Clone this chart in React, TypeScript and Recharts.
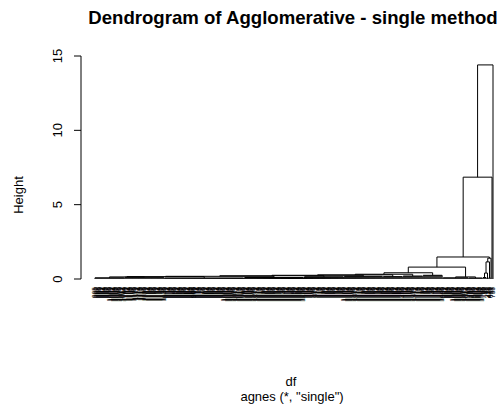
import React from 'react';
import { LineChart, Line, XAxis, YAxis } from 'recharts';

document.body.style.margin = '0';

// leaf groups, left to right (leaves inside a group hang from one low bar)
const groupSizes = [30, 40, 80, 60, 40, 39, 20, 20, 20, 26, 14, 4, 2, 2, 1, 1, 1];
const groupHeights = [0.08, 0.12, 0.07, 0.1, 0.15, 0.18, 0.16, 0.2, 0.25, 0.08, 0.07, 0.1, 0.05, 0.1, 0, 0, 0];
const groupFirstIds = [985, 1100, 940, 1200, 300, 1300, 1350, 1400, 1430, 990, 1495, 55, 212, 478, 601, 88, 733];

// merges, hclust style: negative = group, positive = earlier merge
const mergeLeft = [-1, 1, 2, 3, 4, 5, 6, 7, -10, 8, -12, 11, 12, 10, 14, 15];
const mergeRight = [-2, -3, -4, -5, -6, -7, -8, -9, -11, 9, -13, -14, -15, 13, -16, -17];
const mergeHeights = [0.14, 0.16, 0.18, 0.22, 0.25, 0.28, 0.32, 0.42, 0.14, 0.8, 0.4, 1.15, 1.4, 1.48, 6.85, 14.4];

const yTicks = [0, 5, 10, 15];

const W = 503;
const H = 408;
const PLOT_LEFT = 81;
const PLOT_TOP = 56;
const PLOT_BOTTOM = 279;
const FONT = '"Liberation Sans", Arial, Helvetica, sans-serif';

type Pt = { x: number; y: number | null };

// walk groups + merges into line points
const leafLabels: string[] = [];
const leafPos: number[] = [];
const pts: Pt[] = [];
const groupPos: number[] = [];
let leaf = 1;
groupSizes.forEach((size, g) => {
  const first = leaf;
  const h = groupHeights[g];
  for (let k = 0; k < size; k++) {
    leafPos.push(leaf);
    leafLabels.push(String(groupFirstIds[g] + k));
    if (h > 0) pts.push({ x: leaf, y: 0 }, { x: leaf, y: h }, { x: leaf, y: null });
    leaf++;
  }
  const last = leaf - 1;
  if (h > 0) pts.push({ x: first, y: h }, { x: last, y: h }, { x: last, y: null });
  groupPos.push((first + last) / 2);
});
const nLeaves = leaf - 1;

const mergePos: number[] = [];
const node = (id: number) =>
  id < 0
    ? { x: groupPos[-id - 1], h: groupHeights[-id - 1] }
    : { x: mergePos[id - 1], h: mergeHeights[id - 1] };
mergeHeights.forEach((h, m) => {
  const a = node(mergeLeft[m]);
  const b = node(mergeRight[m]);
  pts.push({ x: a.x, y: a.h }, { x: a.x, y: h }, { x: b.x, y: h }, { x: b.x, y: b.h }, { x: b.x, y: null });
  mergePos.push((a.x + b.x) / 2);
});

// first leaf at px 95, last at px 493
const plotW = W - PLOT_LEFT;
const span = ((nLeaves - 1) * plotW) / (493 - 95);
const xMin = 1 - ((95 - PLOT_LEFT) * span) / plotW;
const xMax = xMin + span;

const LeafTick = (props: any) => {
  const { x, y, payload } = props;
  return (
    <text
      x={x}
      y={y}
      transform={`rotate(-90 ${x} ${y})`}
      textAnchor="end"
      dominantBaseline="middle"
      fontSize={6.6}
      fontFamily={FONT}
      fill="#000"
    >
      {leafLabels[payload.value - 1]}
    </text>
  );
};

const HeightTick = (props: any) => {
  const { y, payload } = props;
  const bx = 62;
  return (
    <text
      x={bx}
      y={y}
      transform={`rotate(-90 ${bx} ${y})`}
      textAnchor="middle"
      fontSize={13}
      fontFamily={FONT}
      fill="#000"
    >
      {payload.value}
    </text>
  );
};

export default function App() {
  return (
    <div style={{ position: 'relative', width: W, height: H, background: '#fff' }}>
      <LineChart
        width={W}
        height={H}
        margin={{ top: PLOT_TOP, right: 0, left: 0, bottom: 0 }}
      >
        <XAxis
          dataKey="x"
          type="number"
          domain={[xMin, xMax]}
          allowDataOverflow
          ticks={leafPos}
          interval={0}
          height={H - PLOT_BOTTOM}
          axisLine={false}
          tickLine={false}
          tickSize={8}
          tickMargin={0}
          tick={<LeafTick />}
        />
        <YAxis
          type="number"
          domain={[0, 15]}
          ticks={yTicks}
          width={PLOT_LEFT}
          tickSize={7}
          axisLine={{ stroke: '#000' }}
          tickLine={{ stroke: '#000' }}
          tick={<HeightTick />}
        />
        <Line
          data={pts}
          dataKey="y"
          stroke="#000"
          strokeWidth={1}
          dot={false}
          activeDot={false}
          connectNulls={false}
          isAnimationActive={false}
        />
      </LineChart>
      <svg
        width={W}
        height={H}
        style={{ position: 'absolute', left: 0, top: 0, pointerEvents: 'none' }}
      >
        <text x={293} y={24} textAnchor="middle" fontSize={18.6} fontWeight="bold" fontFamily={FONT}>
          Dendrogram of Agglomerative - single method
        </text>
        <text x={23} y={195} transform="rotate(-90 23 195)" textAnchor="middle" fontSize={13} fontFamily={FONT}>
          Height
        </text>
        <text x={291} y={386} textAnchor="middle" fontSize={13} fontFamily={FONT}>
          df
        </text>
        <text x={292} y={401} textAnchor="middle" fontSize={13} fontFamily={FONT}>
          agnes (*, "single")
        </text>
      </svg>
    </div>
  );
}
